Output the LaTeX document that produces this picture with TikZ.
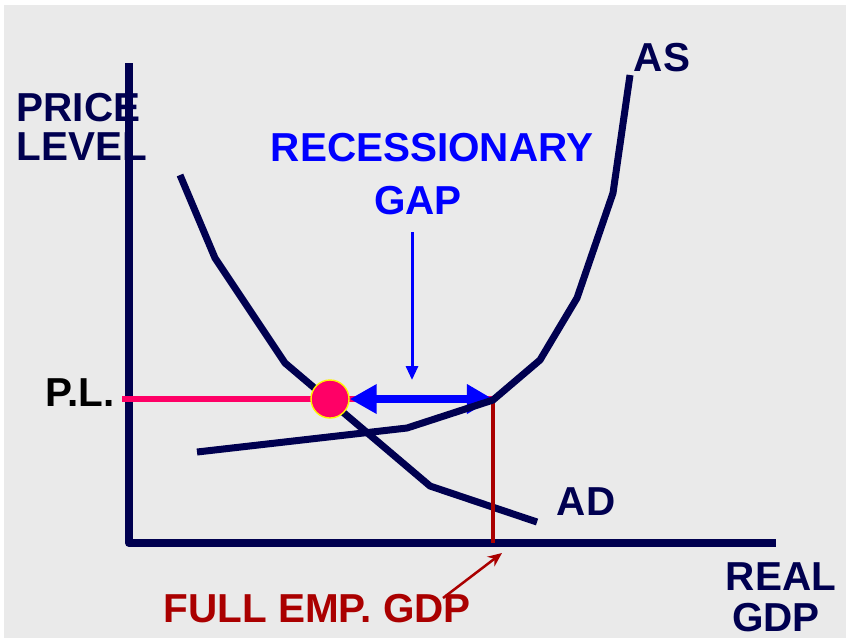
\documentclass[tikz,border=0pt]{standalone}
\usepackage{fontspec}
\setmainfont{Liberation Sans}
\usetikzlibrary{arrows.meta}
\definecolor{navy}{RGB}{0,0,80}
\definecolor{gapblue}{RGB}{0,0,255}
\definecolor{plpink}{RGB}{255,0,102}
\definecolor{empred}{RGB}{170,0,0}
\definecolor{bggray}{RGB}{234,234,234}
\begin{document}
\begin{tikzpicture}[x=0.01cm,y=-0.01cm,line join=round,font=\fontsize{11.5}{13.5}\selectfont\bfseries,
	lbl/.style={inner sep=0pt,text=navy,align=center},
	curve/.style={navy,line width=0.07cm}]
	\useasboundingbox (0,0) rectangle (846,638);
	\fill[white] (0,0) rectangle (846,638);
	\fill[bggray] (4,5) rectangle (846,638);
	% axes
	\coordinate (o) at (129,543);
	\coordinate (ytop) at (129,67);
	\coordinate (xend) at (772,543);
	\draw[navy,line width=0.08cm,line cap=rect] (ytop) -- (o) -- (xend);
	% AD curve
	\draw[curve] (180,175) -- (215,258) -- (285,363) -- (430,486) -- (537,522);
	% price level and full employment
	\coordinate (fe) at (493,400);
	\node[lbl,text=black] (pl) at (80,393) {P.L.};
	\coordinate (plstart) at (122,399);
	\draw[plpink,line width=0.06cm] (plstart) -- (fe|-plstart);
	\draw[empred,line width=0.04cm] (fe) -- (fe|-o);
	\node[draw=yellow,line width=0.4pt,fill=plpink,circle,minimum size=0.38cm,inner sep=0pt] (eq) at (330,399) {};
	\draw[{Triangle[length=0.27cm,width=0.28cm]}-{Triangle[length=0.26cm,width=0.28cm]},gapblue,line width=0.08cm] (eq.east) -- (fe|-eq.east);
	% AS curve
	\draw[curve] (197,452) -- (407,428) -- (fe) -- (540,360) -- (577,298) -- (613,193) -- (630,75);
	% labels
	\node[lbl,anchor=west] (price) at (16,108) {PRICE};
	\node[lbl,anchor=west] (level) at (16,147) {LEVEL};
	\node[lbl] (as) at (662,58) {AS};
	\node[lbl] (ad) at (586,502) {AD};
	\node[lbl] (real) at (781,577) {REAL};
	\node[lbl] (gdp) at (776,618) {GDP};
	\node[lbl,text=gapblue] (rec) at (432,148) {RECESSIONARY};
	\node[lbl,text=gapblue] (gap) at (418,201) {GAP};
	\coordinate (gaptop) at (412,232);
	\draw[-{Triangle[length=0.14cm,width=0.12cm]},gapblue,line width=0.03cm] (gaptop) -- (412,380);
	\node[lbl,text=empred,anchor=west] (femp) at (163,609) {FULL EMP. GDP};
	\coordinate (fetail) at (443,598);
	\coordinate (fetip) at (502,553);
	\draw[-{Stealth[length=0.14cm,width=0.12cm]},empred,line width=0.025cm] (fetail) -- (fetip);
\end{tikzpicture}
\end{document}
